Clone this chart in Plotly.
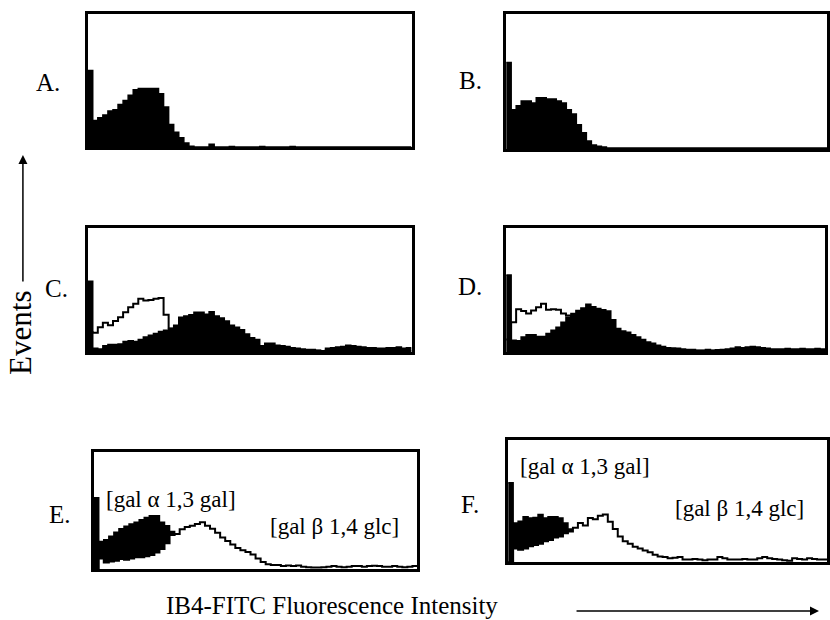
import plotly.graph_objects as go

W, H = 830, 620
FONT = "Liberation Serif"

# channel bin edges (64 bins per histogram)
edges = list(range(65))

# Panel A: filled histogram (normalised events)
A_filled = [0.575, 0.20, 0.22, 0.24, 0.27, 0.28, 0.32, 0.35, 0.39, 0.43, 0.44, 0.44, 0.44, 0.44, 0.40, 0.30,
            0.17, 0.11, 0.07, 0.03, 0.005, 0.0, 0.0, 0.0, 0.02, 0.0, 0.0, 0.0, 0.003, 0.0, 0.0, 0.0,
            0.0, 0.0, 0.003, 0.0, 0.0, 0.0, 0.0, 0.0, 0.003, 0.0, 0.0, 0.0, 0.0, 0.0, 0.0, 0.0,
            0.0, 0.0, 0.0, 0.0, 0.0, 0.0, 0.0, 0.0, 0.0, 0.0, 0.0, 0.0, 0.0, 0.0, 0.0, 0.0]

# Panel B
B_filled = [0.64, 0.29, 0.32, 0.355, 0.355, 0.34, 0.38, 0.38, 0.37, 0.37, 0.355, 0.34, 0.29, 0.26, 0.18, 0.12,
            0.06, 0.03, 0.02, 0.015, 0.008, 0.008, 0.008, 0.008, 0.008, 0.008, 0.008, 0.008, 0.008, 0.008, 0.008, 0.008,
            0.008, 0.008, 0.008, 0.008, 0.008, 0.008, 0.008, 0.008, 0.008, 0.008, 0.008, 0.008, 0.008, 0.008, 0.008, 0.008,
            0.008, 0.008, 0.008, 0.008, 0.008, 0.008, 0.008, 0.008, 0.008, 0.008, 0.008, 0.008, 0.008, 0.008, 0.008, 0.008]

# Panel C
C_open = [0.16, 0.155, 0.20, 0.235, 0.215, 0.25, 0.28, 0.32, 0.36, 0.39, 0.43, 0.415, 0.42, 0.43, 0.435, 0.30,
          0.19, 0.02, 0.01, 0.01, 0.01, 0.01, 0.01, 0.01, 0.01, 0.01, 0.01, 0.01, 0.01, 0.01, 0.01, 0.01,
          0.01, 0.01, 0.01, 0.01, 0.01, 0.01, 0.01, 0.01, 0.01, 0.01, 0.01, 0.01, 0.01, 0.01, 0.005, 0.01,
          0.01, 0.01, 0.01, 0.01, 0.01, 0.01, 0.01, 0.01, 0.01, 0.01, 0.01, 0.01, 0.01, 0.01, 0.01, 0.01]
C_filled = [0.57, 0.03, 0.025, 0.05, 0.06, 0.06, 0.065, 0.085, 0.09, 0.085, 0.10, 0.12, 0.135, 0.15, 0.165, 0.175,
            0.19, 0.215, 0.28, 0.29, 0.30, 0.32, 0.32, 0.305, 0.325, 0.29, 0.275, 0.25, 0.215, 0.20, 0.18, 0.145,
            0.115, 0.10, 0.05, 0.07, 0.07, 0.055, 0.05, 0.045, 0.035, 0.03, 0.025, 0.02, 0.02, 0.015, 0.01, 0.03,
            0.035, 0.04, 0.045, 0.055, 0.05, 0.045, 0.04, 0.035, 0.035, 0.03, 0.03, 0.035, 0.035, 0.04, 0.03, 0.035]

# Panel D
D_open = [0.10, 0.24, 0.345, 0.33, 0.31, 0.335, 0.36, 0.39, 0.34, 0.345, 0.34, 0.31, 0.295, 0.20, 0.02, 0.01,
          0.01, 0.01, 0.01, 0.01, 0.01, 0.01, 0.01, 0.01, 0.01, 0.01, 0.01, 0.01, 0.01, 0.01, 0.01, 0.01,
          0.01, 0.01, 0.01, 0.01, 0.01, 0.01, 0.01, 0.01, 0.01, 0.01, 0.01, 0.01, 0.01, 0.01, 0.01, 0.01,
          0.01, 0.01, 0.01, 0.01, 0.01, 0.01, 0.01, 0.01, 0.01, 0.01, 0.01, 0.01, 0.01, 0.01, 0.01, 0.01]
D_filled = [0.62, 0.095, 0.09, 0.12, 0.14, 0.14, 0.125, 0.125, 0.15, 0.175, 0.20, 0.24, 0.28, 0.31, 0.335, 0.355,
            0.385, 0.365, 0.35, 0.34, 0.33, 0.26, 0.19, 0.17, 0.16, 0.14, 0.12, 0.10, 0.08, 0.07, 0.055, 0.045,
            0.035, 0.032, 0.03, 0.025, 0.02, 0.02, 0.015, 0.015, 0.02, 0.015, 0.018, 0.02, 0.025, 0.03, 0.04, 0.035,
            0.04, 0.045, 0.04, 0.035, 0.03, 0.025, 0.025, 0.025, 0.028, 0.025, 0.025, 0.028, 0.025, 0.025, 0.028, 0.025]

# Panel E: [gal a1,3 gal] (filled) and [gal b1,4 glc] (open)
E_alpha = [0.61, 0.235, 0.25, 0.28, 0.315, 0.345, 0.365, 0.385, 0.40, 0.42, 0.44, 0.455, 0.455, 0.40, 0.37, 0.32,
           0.0, 0.0, 0.0, 0.0, 0.0, 0.0, 0.0, 0.0, 0.0, 0.0, 0.0, 0.0, 0.0, 0.0, 0.0, 0.0,
           0.0, 0.0, 0.0, 0.0, 0.0, 0.0, 0.0, 0.0, 0.0, 0.0, 0.0, 0.0, 0.0, 0.0, 0.0, 0.0,
           0.0, 0.0, 0.0, 0.0, 0.0, 0.0, 0.0, 0.0, 0.0, 0.0, 0.0, 0.0, 0.0, 0.0, 0.0, 0.0]
E_beta = [0.0, 0.09, 0.055, 0.065, 0.07, 0.085, 0.08, 0.09, 0.10, 0.10, 0.11, 0.12, 0.14, 0.17, 0.22, 0.29,
          0.30, 0.34, 0.36, 0.37, 0.385, 0.40, 0.37, 0.345, 0.31, 0.27, 0.24, 0.21, 0.18, 0.16, 0.145, 0.125,
          0.09, 0.06, 0.04, 0.035, 0.035, 0.025, 0.03, 0.025, 0.03, 0.02, 0.015, 0.013, 0.013, 0.015, 0.02, 0.025,
          0.02, 0.015, 0.02, 0.025, 0.025, 0.02, 0.025, 0.028, 0.025, 0.02, 0.02, 0.025, 0.02, 0.015, 0.02, 0.025]

# Panel F
F_alpha = [0.65, 0.32, 0.335, 0.37, 0.36, 0.365, 0.39, 0.36, 0.37, 0.37, 0.36, 0.32, 0.27, 0.0, 0.0, 0.0,
           0.0, 0.0, 0.0, 0.0, 0.0, 0.0, 0.0, 0.0, 0.0, 0.0, 0.0, 0.0, 0.0, 0.0, 0.0, 0.0,
           0.0, 0.0, 0.0, 0.0, 0.0, 0.0, 0.0, 0.0, 0.0, 0.0, 0.0, 0.0, 0.0, 0.0, 0.0, 0.0,
           0.0, 0.0, 0.0, 0.0, 0.0, 0.0, 0.0, 0.0, 0.0, 0.0, 0.0, 0.0, 0.0, 0.0, 0.0, 0.0]
F_beta = [0.0, 0.11, 0.10, 0.11, 0.13, 0.14, 0.15, 0.17, 0.18, 0.20, 0.21, 0.235, 0.25, 0.28, 0.32, 0.30,
          0.36, 0.35, 0.38, 0.39, 0.33, 0.27, 0.21, 0.17, 0.15, 0.125, 0.11, 0.095, 0.08, 0.06, 0.045, 0.04,
          0.03, 0.035, 0.04, 0.02, 0.02, 0.025, 0.02, 0.015, 0.02, 0.02, 0.04, 0.03, 0.02, 0.02, 0.02, 0.025,
          0.02, 0.02, 0.03, 0.04, 0.03, 0.025, 0.02, 0.015, 0.01, 0.03, 0.025, 0.02, 0.03, 0.025, 0.02, 0.02]

panel_labels = ["A.", "B.", "C.", "D.", "E.", "F."]
alpha_label = "[gal α 1,3 gal]"
beta_label = "[gal β 1,4 glc]"
y_title = "Events"
x_title = "IB4-FITC Fluorescence Intensity"

# panel boxes in pixels: (left, right, top, bottom)
boxes = [(88, 413, 14, 147), (508, 830, 14, 149), (88, 413, 228, 352),
         (508, 828, 228, 352), (94, 419, 452, 569), (510, 831, 440, 562)]
label_pos = [(48, 82), (472, 80), (57, 289), (472, 286), (60, 514), (472, 504)]


def step(v):
    return v + [v[-1]]


fig = go.Figure()


def add(k, vals, fillcolor=None, linewidth=1.5):
    fig.add_trace(go.Scatter(
        x=edges, y=step(vals), mode="lines", line=dict(shape="hv", color="black", width=linewidth),
        fill="tozeroy" if fillcolor else None, fillcolor=fillcolor,
        xaxis=f"x{k}", yaxis=f"y{k}", hoverinfo="skip", showlegend=False))


add(1, A_filled, "black")
add(2, B_filled, "black")
add(3, C_open, None, 2)
add(3, C_filled, "black")
add(4, D_open, None, 2)
add(4, D_filled, "black")
add(5, E_alpha, "black")
add(5, E_beta, "white", 2)
add(6, F_alpha, "black")
add(6, F_beta, "white", 2)

layout = dict(width=W, height=H, margin=dict(l=0, r=0, t=0, b=0),
              paper_bgcolor="white", plot_bgcolor="white", showlegend=False)
for k, (l, r, t, b) in enumerate(boxes, start=1):
    ax = dict(showline=True, mirror=True, linecolor="black", linewidth=2.5, showticklabels=False,
              ticks="", showgrid=False, zeroline=False, fixedrange=True)
    layout[f"xaxis{k}"] = dict(ax, domain=[l / W, min(r / W, 1)], range=[0, 64], anchor=f"y{k}")
    layout[f"yaxis{k}"] = dict(ax, domain=[1 - b / H, 1 - t / H], range=[0, 1], anchor=f"x{k}")
fig.update_layout(**layout)


def ann(text, px, py, size, **kw):
    fig.add_annotation(text=text, x=px / W, y=1 - py / H, xref="paper", yref="paper",
                       showarrow=False, font=dict(family=FONT, size=size, color="black"),
                       xanchor="center", yanchor="middle", **kw)


for lab, (px, py) in zip(panel_labels, label_pos):
    ann(lab, px, py, 25)

ann(alpha_label, 172, 500, 23)
ann(beta_label, 336, 526, 23)
ann(alpha_label, 587, 466, 23)
ann(beta_label, 742, 508, 23)

ann(y_title, 20, 333, 31, textangle=-90)
ann(x_title, 333, 605, 25)

# arrows
fig.add_annotation(x=23 / W, y=1 - 155 / H, xref="paper", yref="paper", ax=0, ay=128,
                   showarrow=True, arrowhead=2, arrowsize=1.2, arrowwidth=1.5, arrowcolor="black", text="")
fig.add_annotation(x=822 / W, y=1 - 611 / H, xref="paper", yref="paper", ax=-244, ay=0,
                   showarrow=True, arrowhead=2, arrowsize=1.2, arrowwidth=1.5, arrowcolor="black", text="")

fig.write_html("out.html")
